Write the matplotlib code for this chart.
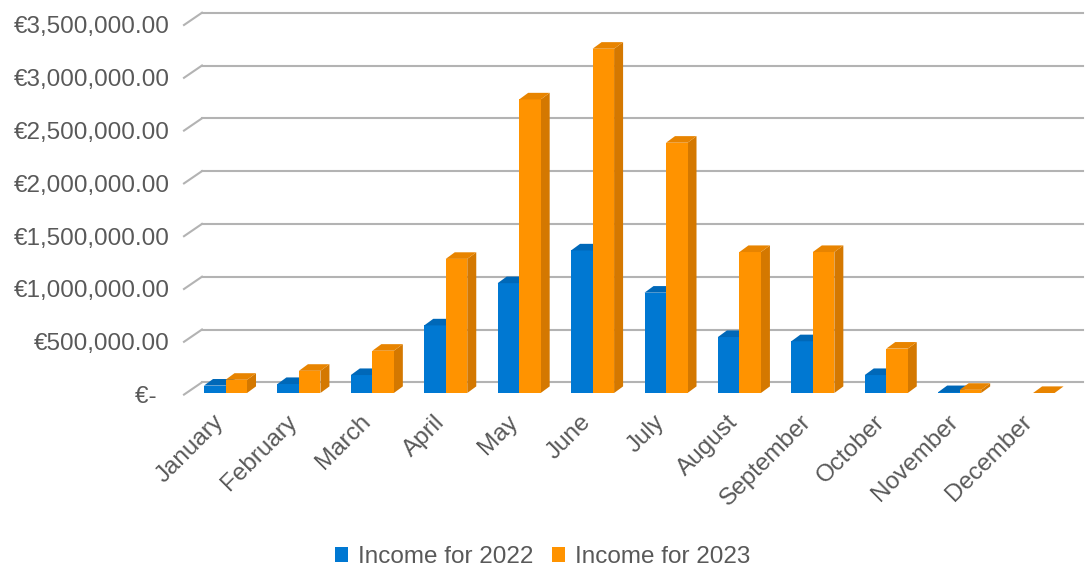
import numpy as np
import matplotlib.pyplot as plt
from matplotlib.patches import Polygon, Patch
from matplotlib.transforms import ScaledTranslation
from matplotlib.ticker import FuncFormatter

plt.rcParams['font.family'] = ['Liberation Sans', 'DejaVu Sans']

# --- data ---
months = ['January', 'February', 'March', 'April', 'May', 'June', 'July',
          'August', 'September', 'October', 'November', 'December']
income_2022 = [70000, 85000, 170000, 640000, 1040000, 1350000, 950000,
               530000, 490000, 170000, 8000, np.nan]
income_2023 = [125000, 210000, 400000, 1270000, 2780000, 3260000, 2370000,
               1335000, 1335000, 420000, 30000, 0]
series_labels = ['Income for 2022', 'Income for 2023']

# colours: front, top, side
blue = ('#0078d2', '#0068b8', '#005fa6')
orange = ('#ff9300', '#e88400', '#d47800')
grid_col = '#b3b3b3'
text_col = '#595959'
fs = 17.5

W, H = 1085, 567
fig = plt.figure(figsize=(W / 100, H / 100), dpi=100)

# front plane of the 3d box, in pixels
x0, x1 = 184, 1065
y_top, y_zero = 25, 394.6
ax = fig.add_axes([x0 / W, (H - y_zero) / H, (x1 - x0) / W, (y_zero - y_top) / H])
ymax = 3500000
ax.set_xlim(-0.5, 11.5)
ax.set_ylim(0, ymax)
for s in ax.spines.values():
    s.set_visible(False)

px_x = (x1 - x0) / 12.0
px_y = (y_zero - y_top) / ymax


def ddx(p):
    return p / px_x


def ddy(p):
    return p / px_y


# back wall gridlines + diagonal ticks on the left
wall = (18, 12.3)
yticks = np.arange(0, ymax + 1, 500000)
for v in yticks:
    ax.plot([-0.5 + ddx(wall[0]), 11.5 + ddx(wall[0])], [v + ddy(wall[1])] * 2,
            color=grid_col, lw=1.5, clip_on=False, zorder=1)
    ax.plot([-0.5, -0.5 + ddx(wall[0])], [v, v + ddy(wall[1])],
            color=grid_col, lw=1.5, clip_on=False, zorder=1)

# bars
x = np.arange(len(months))
bw = 21.5 / px_x
off_x = ddx(4.8)
base = ddy(1.6)
depth = (9, 6.6)


def bars3d(xs, vals, cols, z):
    cont = ax.bar(xs, vals, width=bw, bottom=base, align='edge', color=cols[0],
                  zorder=z, clip_on=False, linewidth=0)
    for r, v in zip(cont.patches, vals):
        if np.isnan(v):
            continue
        xa = r.get_x()
        xb = xa + r.get_width()
        yb = r.get_y()
        yt = yb + r.get_height()
        dx_, dy_ = ddx(depth[0]), ddy(depth[1])
        top = Polygon([(xa, yt), (xb, yt), (xb + dx_, yt + dy_), (xa + dx_, yt + dy_)],
                      closed=True, facecolor=cols[1], edgecolor='none', zorder=z, clip_on=False)
        side = Polygon([(xb, yb), (xb + dx_, yb + dy_), (xb + dx_, yt + dy_), (xb, yt)],
                       closed=True, facecolor=cols[2], edgecolor='none', zorder=z - 0.5, clip_on=False)
        ax.add_patch(side)
        ax.add_patch(top)
    return cont


bars3d(x + off_x - bw, income_2022, blue, 3)
bars3d(x + off_x, income_2023, orange, 5)

# y axis labels


def euro(v, pos):
    if v == 0:
        return '€-  '
    return '€{:,.2f}'.format(v)


ax.set_yticks(yticks)
ax.yaxis.set_major_formatter(FuncFormatter(euro))
ax.tick_params(axis='y', length=0, pad=10, labelsize=fs, labelcolor=text_col)

# x axis labels, rotated
ax.set_xticks([])
lab_tr = ax.get_xaxis_transform() + ScaledTranslation(0 / 100, -24 / 100, fig.dpi_scale_trans)
for i, m in enumerate(months):
    ax.text(i, 0, m, transform=lab_tr, rotation=45, ha='right', va='center',
            rotation_mode='anchor', fontsize=fs, color=text_col)

# legend
handles = [Patch(facecolor=blue[0]), Patch(facecolor=orange[0])]
fig.legend(handles, series_labels, loc='center', bbox_to_anchor=(0.5, 10 / H),
           ncol=2, frameon=False, fontsize=fs, labelcolor=text_col,
           handlelength=0.55, handleheight=0.55, handletextpad=0.4, columnspacing=0.75)

fig.savefig('out.png', dpi=100)
